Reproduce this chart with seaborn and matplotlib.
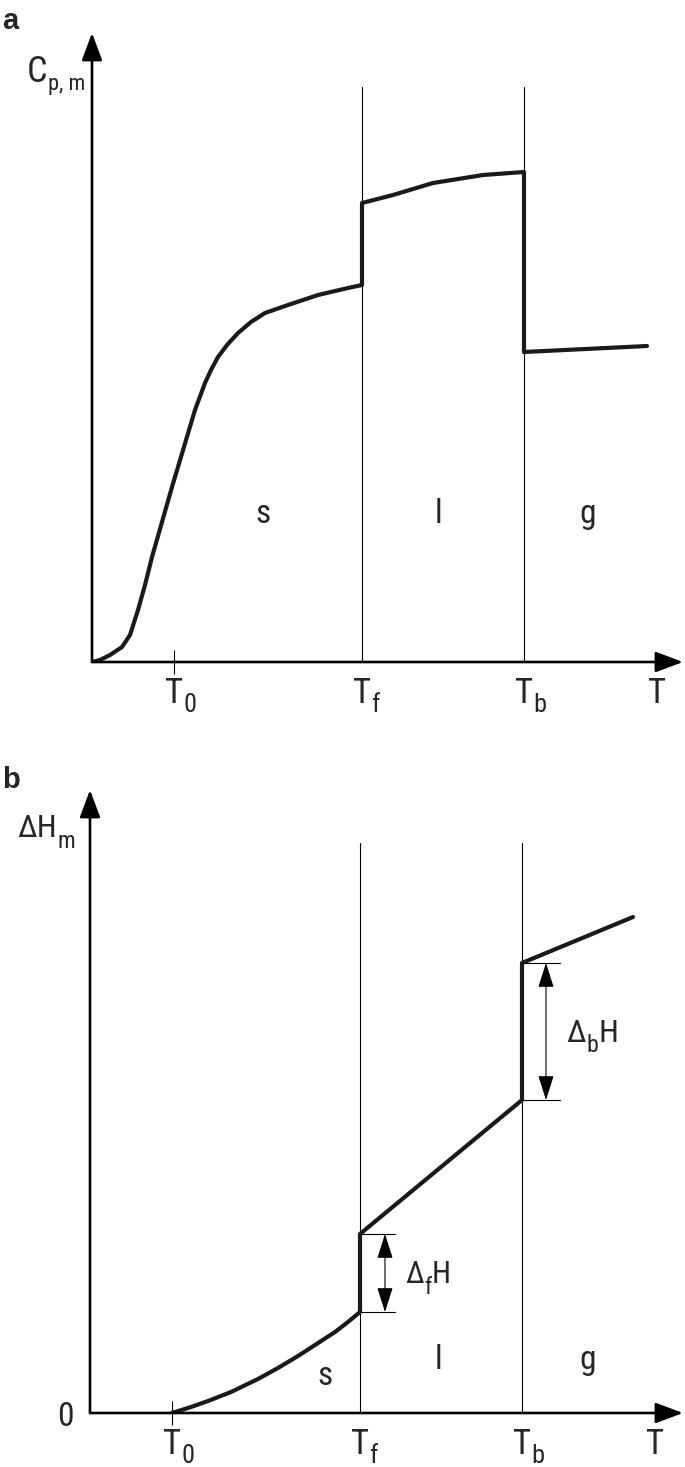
import matplotlib
matplotlib.use("Agg")
import matplotlib.pyplot as plt
from matplotlib import font_manager
from matplotlib.transforms import IdentityTransform
import seaborn as sns

# --- data (schematic units) ---
T0, Tf, Tb = 0.82, 2.70, 4.32
t_pos = [T0, Tf, Tb, 5.65]
t_main = ["T", "T", "T", "T"]
t_sub = ["0", "f", "b", ""]

# panel a: molar heat capacity
cp_T = [0, 0.08, 0.18, 0.30, 0.38, 0.46, 0.53, 0.60, 0.80, 1.03, 1.13, 1.19, 1.26, 1.35, 1.46,
        1.59, 1.73, 1.93, 2.26, 2.56, 2.70,
        2.70, 3.01, 3.41, 3.91, 4.32,
        4.32, 5.55]
cp_val = [0, 0.02, 0.07, 0.15, 0.27, 0.52, 0.77, 1.05, 1.75, 2.52, 2.79, 2.92, 3.05, 3.17, 3.29,
          3.40, 3.49, 3.56, 3.67, 3.74, 3.77,
          4.59, 4.67, 4.79, 4.87, 4.90,
          3.10, 3.16]

# panel b: enthalpy
h_T = [0.82, 1.01, 1.18, 1.41, 1.68, 1.88, 2.08, 2.25, 2.45, 2.58, 2.70,
       2.70, 4.32, 4.32, 5.43]
h_val = [0, 0.06, 0.12, 0.21, 0.34, 0.45, 0.57, 0.68, 0.81, 0.91, 1.01,
         1.79, 3.13, 4.50, 4.96]
dH_fus = (1.01, 1.79)
dH_vap = (3.13, 4.50)

phase_labels = ["s", "l", "g"]
phase_x = [1.71, 3.46, 4.96]

sns.set_theme(style="white")
names = {f.name for f in font_manager.fontManager.ttflist}
narrow = "DejaVu Sans"
for cand in ["Liberation Sans Narrow", "Roboto Condensed", "Open Sans Condensed"]:
    if cand in names:
        narrow = cand
        break
plt.rcParams["font.family"] = [narrow, "DejaVu Sans"]

W, H = 685, 1467
fig = plt.figure(figsize=(W / 100, H / 100), dpi=100)
renderer = fig.canvas.get_renderer()


def rich(x, y, pieces, center_first=False):
    # pieces: (text, fontsize, drop in px); x, y in output pixels (y from bottom)
    arts = []
    cx = x
    for txt, size, drop in pieces:
        if not txt:
            continue
        t = fig.text(cx, y - drop, txt, fontsize=size, transform=IdentityTransform(),
                     ha="left", va="baseline")
        bb = t.get_window_extent(renderer)
        cx = bb.x1 + 0.5
        arts.append(t)
    if center_first and arts:
        bb = arts[0].get_window_extent(renderer)
        dx = (bb.x1 - bb.x0) / 2
        for t in arts:
            t.set_x(t.get_position()[0] - dx)
    return arts


def make_axes(x0, x1, ytop, ybot, xmax, ymax):
    ax = fig.add_axes([x0 / W, 1 - ybot / H, (x1 - x0) / W, (ybot - ytop) / H])
    ax.set_xlim(0, xmax)
    ax.set_ylim(0, ymax)
    for s in ax.spines.values():
        s.set_visible(False)
    ax.patch.set_alpha(0)
    arrow = dict(arrowstyle="-|>,head_length=1.2,head_width=0.45", color="black", lw=1.9,
                 shrinkA=0, shrinkB=0, mutation_scale=14)
    ax.annotate("", xy=(0, ymax), xytext=(0, 0), arrowprops=arrow, annotation_clip=False)
    ax.annotate("", xy=(xmax, 0), xytext=(0, 0), arrowprops=arrow, annotation_clip=False)
    ax.set_xticks([T0])
    ax.set_xticklabels([])
    ax.tick_params(axis="x", bottom=True, direction="inout", length=17, width=0.8, color="black")
    # temperature labels under the axis
    for x, m, s in zip(t_pos, t_main, t_sub):
        px, py = ax.transData.transform((x, 0))
        rich(px, py - 41, [(m, 25, 0), (s, 19, 9)], center_first=True)
    return ax


def phase_lines(ax, top):
    for x in [Tf, Tb]:
        ax.plot([x, x], [0, top], color="black", lw=0.8)


# ---------- panel a ----------
ax1 = make_axes(92, 683, 33, 662, 5.91, 6.29)
phase_lines(ax1, 5.75)
sns.lineplot(x=cp_T, y=cp_val, sort=False, estimator=None, color="#1a1a1a", lw=3.0, ax=ax1)
ax1.lines[-1].set_solid_joinstyle("round")
ax1.set_yticks([])
for lab, x in zip(phase_labels, phase_x):
    ax1.text(x, 1.48, lab, fontsize=24, ha="center", va="center")
rich(27, H - 82, [("C", 26, 0), ("p, m", 16, 8)])
fig.text(2 / W, 1 - 21 / H, "a", fontsize=21, fontweight="bold", family="Liberation Sans",
         ha="left", va="center")

# ---------- panel b ----------
ax2 = make_axes(90, 683, 790, 1413, 5.93, 6.23)
phase_lines(ax2, 5.70)
sns.lineplot(x=h_T, y=h_val, sort=False, estimator=None, color="#1a1a1a", lw=3.0, ax=ax2)
ax2.lines[-1].set_solid_joinstyle("round")
ax2.set_yticks([0])
ax2.set_yticklabels(["0"], fontsize=24)
ax2.tick_params(axis="y", length=0, pad=12)

dbl = dict(arrowstyle="<|-|>,head_length=1.1,head_width=0.35", color="black", lw=0.8,
           shrinkA=0, shrinkB=0, mutation_scale=14)
for (lo, hi), T, xa, xe, sub, size in [(dH_fus, Tf, 2.95, 3.05, "f", 22),
                                       (dH_vap, Tb, 4.56, 4.70, "b", 23)]:
    ax2.plot([T, xe], [lo, lo], color="black", lw=0.8)
    ax2.plot([T, xe], [hi, hi], color="black", lw=0.8)
    ax2.annotate("", xy=(xa, hi), xytext=(xa, lo), arrowprops=dbl)
    px, py = ax2.transData.transform((xa, (lo + hi) / 2))
    rich(px + 20, py - 10, [("Δ", size, 0), (sub, size * 0.75, 11), ("H", size, 0)])

for lab, x, y in zip(phase_labels, [2.35, 3.48, 4.98], [0.37, 0.53, 0.53]):
    ax2.text(x, y, lab, fontsize=24, ha="center", va="center")
rich(17, H - 837, [("ΔH", 23, 0), ("m", 17, 11)])
fig.text(2 / W, 1 - 780 / H, "b", fontsize=21, fontweight="bold", family="Liberation Sans",
         ha="left", va="center")

fig.savefig("out.png", dpi=100)
